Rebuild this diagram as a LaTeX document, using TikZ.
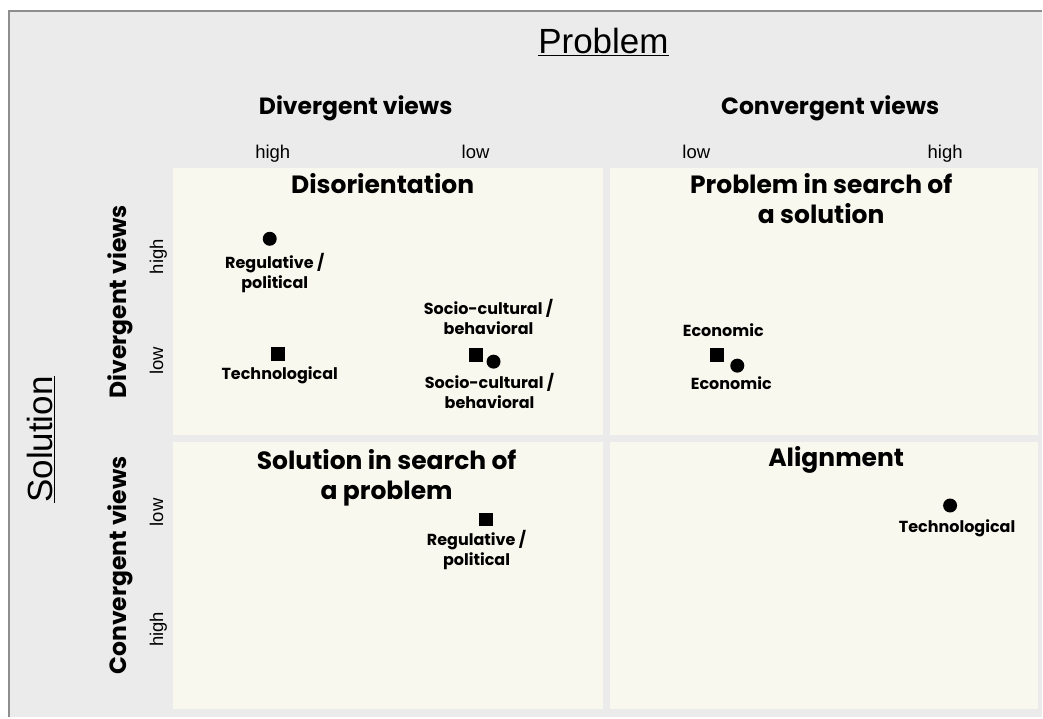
\documentclass[tikz,border=0pt]{standalone}
\usepackage{fontspec}
\setmainfont{Liberation Sans}
\newfontfamily\headfont{Poppins}
\usepackage{tikz}

\definecolor{bggray}{HTML}{EBEBEB}
\definecolor{framegray}{HTML}{8E8E8E}
\definecolor{cream}{HTML}{F9F8EE}

\tikzset{
  quad/.style={fill=cream, inner sep=0pt},
  axis/.style={font=\fontsize{35}{40}\selectfont},
  views/.style={font=\headfont\bfseries\fontsize{23.5}{28}\selectfont},
  level/.style={font=\fontsize{18.5}{20}\selectfont, text height=1.5ex, text depth=.25ex},
  title/.style={font=\headfont\bfseries\fontsize{25}{30}\selectfont, align=center},
  item/.style={font=\headfont\bfseries\fontsize{16}{20}\selectfont, align=center},
  dot/.style={circle, fill=black, inner sep=0pt, minimum size=14pt},
  sq/.style={rectangle, fill=black, inner sep=0pt, minimum size=14pt}
}

\begin{document}
\begin{tikzpicture}[x=1pt,y=-1pt]
        % background and frame
        \fill[white] (0,0) rectangle (1043,718);
        \fill[bggray] (9,11) rectangle (1043,718);
        \draw[framegray, line width=2pt] (9,718) -- (9,11) -- (1043,11);

        % four quadrants
        \fill[quad] (173,168) rectangle (604,435);  % top left
        \fill[quad] (611,168) rectangle (1039,435); % top right
        \fill[quad] (173,442) rectangle (604,710);  % bottom left
        \fill[quad] (611,442) rectangle (1039,710); % bottom right

        % problem axis
        \node[axis] (problem) at (604,42) {\underline{Problem}};
        \node[views] (pdiv) at (356,108) {Divergent views};
        \node[views] (pconv) at (831,108) {Convergent views};
        \node[level] (pdivhigh) at (273,155) {high};
        \node[level] (pdivlow) at (476,155) {low};
        \node[level] (pconvlow) at (697,155) {low};
        \node[level] (pconvhigh) at (946,155) {high};

        % solution axis
        \node[axis, rotate=90] (solution) at (41,440) {\underline{Solution}};
        \node[views, rotate=90] (sdiv) at (120,302) {Divergent views};
        \node[views, rotate=90] (sconv) at (120,566) {Convergent views};
        \node[level, rotate=90] (sdivhigh) at (160,257) {high};
        \node[level, rotate=90] (sdivlow) at (160,361) {low};
        \node[level, rotate=90] (sconvlow) at (160,513) {low};
        \node[level, rotate=90] (sconvhigh) at (160,630) {high};

        % quadrant titles
        \node[title] (disorient) at (383,184) {Disorientation};
        \node[title] (probsearch) at (822,199) {Problem in search of\\a solution};
        \node[title] (solsearch) at (387,478) {Solution in search of\\a problem};
        \node[title] (align) at (837,460) {Alignment};

        % disorientation
        \node[dot] (regdot) at (270,239) {};
        \node[item] (reglabel) at (275,273) {Regulative /\\political};
        \node[sq] (techsq) at (278,354) {};
        \node[item] (techlabel) at (280,376) {Technological};
        \node[item] (sociotop) at (489,317) {Socio-cultural /\\behavioral};
        \node[sq] (sociosq) at (476,355) {};
        \node[dot] (sociodot) at (494,362) {};
        \node[item] (sociobot) at (490,391) {Socio-cultural /\\behavioral};

        % problem in search of a solution
        \node[item] (ecotop) at (724,330) {Economic};
        \node[sq] (ecosq) at (718,355) {};
        \node[dot] (ecodot) at (738,366) {};
        \node[item] (ecobot) at (732,384) {Economic};

        % solution in search of a problem
        \node[sq] (regsq) at (486,520) {};
        \node[item] (regsqlabel) at (477,551) {Regulative /\\political};

        % alignment
        \node[dot] (techdot) at (951,506) {};
        \node[item] (techdotlabel) at (958,529) {Technological};
    \end{tikzpicture}
\end{document}
